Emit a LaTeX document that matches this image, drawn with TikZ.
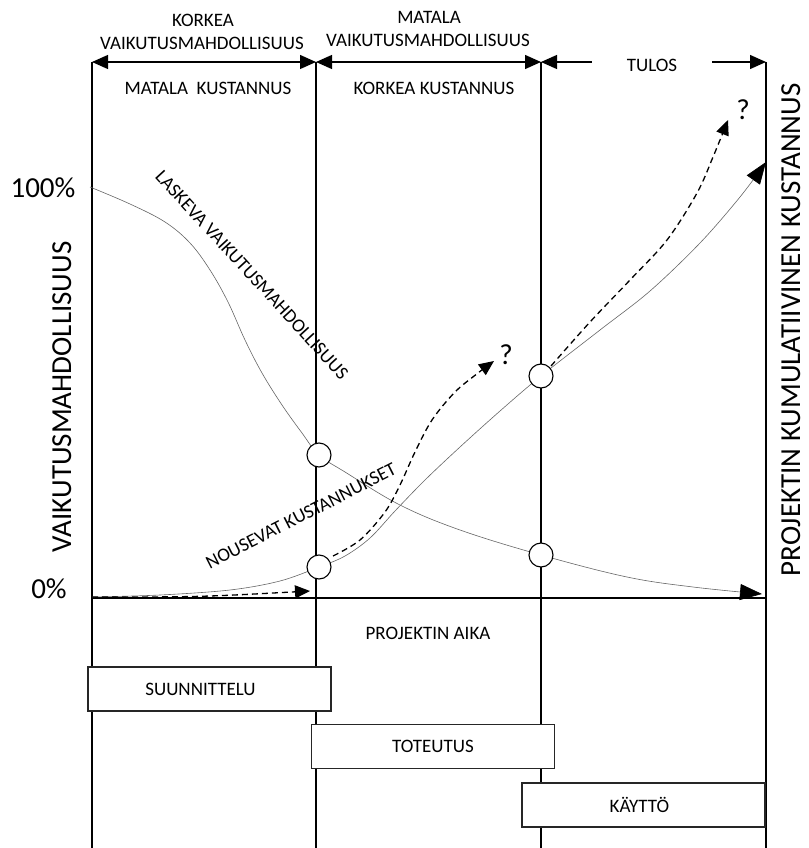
\documentclass[tikz,border=0pt]{standalone}
\usepackage{fontspec}
\setmainfont{Carlito}
\usetikzlibrary{arrows.meta}

\tikzset{
  small/.style={font=\fontsize{19}{22}\selectfont},
  big/.style={font=\fontsize{29}{33}\selectfont},
  axisline/.style={line width=1.3pt, black},
  spanarrow/.style={line width=1.3pt, {Triangle[length=16pt,width=14pt]}-{Triangle[length=16pt,width=14pt]}},
  halfarrow/.style={line width=1.3pt, -{Triangle[length=16pt,width=14pt]}},
  trend/.style={line width=0.6pt, black!60, -{Triangle[length=22pt,width=16pt,color=black]}},
  guess/.style={line width=1.3pt, black, dash pattern=on 6pt off 4pt, -{Triangle[length=15pt,width=13pt]}},
  marker/.style={circle, draw=black, fill=white, line width=1.1pt, minimum size=24pt, inner sep=0pt},
  phase/.style={draw=black!85, fill=white, line width=1.2pt, minimum width=243pt, minimum height=44pt,
                inner sep=0pt, text depth=0pt, small},
}

\begin{document}
\begin{tikzpicture}[x=1pt, y=-1pt]
\useasboundingbox (0,0) rectangle (808,848);

% column boundaries
\coordinate (t0) at (92,62);   \coordinate (b0) at (92,848);
\coordinate (t1) at (316,62);  \coordinate (b1) at (316,848);
\coordinate (t2) at (541,62);  \coordinate (b2) at (541,848);
\coordinate (t3) at (766,62);  \coordinate (b3) at (766,848);
\coordinate (o0) at (92,598);  \coordinate (o3) at (766,598);

\draw[axisline] (t0) -- (b0);
\draw[axisline] (t1) -- (b1);
\draw[axisline] (t2) -- (b2);
\draw[axisline] (t3) -- (b3);
\draw[axisline] (o0) -- (o3);

% span arrows along the top
\draw[spanarrow] (t0) -- (t1);
\draw[spanarrow] (t1) -- (t2);
\node[small, inner xsep=35pt, inner ysep=0pt] (tulos) at (652,65) {TULOS};
\draw[halfarrow] (tulos.west |- t2) -- (t2);
\draw[halfarrow] (tulos.east |- t3) -- (t3);

% headings
\node[small] (h1a) at (203,20) {KORKEA};
\node[small] (h1b) at (202,43) {VAIKUTUSMAHDOLLISUUS};
\node[small] (h2a) at (429,17) {MATALA};
\node[small] (h2b) at (428,40) {VAIKUTUSMAHDOLLISUUS};
\node[small] (k1) at (208,88) {MATALA\ \ KUSTANNUS};
\node[small] (k2) at (434,88) {KORKEA KUSTANNUS};

% axis labels
\node[big] (p100) at (43,188) {100\%};
\node[big] (p0) at (49,589) {0\%};
\node[big, rotate=90, anchor=base, inner sep=0pt] (ylab) at (71,397) {VAIKUTUSMAHDOLLISUUS};
\node[big, rotate=90, anchor=base, inner sep=0pt] (y2lab) at (800,330) {PROJEKTIN KUMULATIIVINEN KUSTANNUS};
\node[small] (xlab) at (428,633) {PROJEKTIN AIKA};

% intersection markers
\coordinate (c1) at (319,455);
\coordinate (c2) at (319,567);
\coordinate (c3) at (541,555);
\coordinate (c4) at (541,376);

% falling influence
\draw[trend] plot[smooth, tension=0.6] coordinates {
  (90,187) (130,204) (165,222) (190,243) (210,270) (228,302) (245,340)
  (262,373) (282,405) (302,433) (c1) (345,472) (400,505) (460,530) (c3)
  (627,577) (693,587) (762,594)};

% rising cumulative cost
\draw[trend] plot[smooth, tension=0.55] coordinates {
  (92,597) (160,595) (230,590) (280,581) (c2) (345,556) (370,538)
  (395,511) (425,480) (460,447) (500,411) (c4) (600,330) (650,291)
  (700,243) (740,197) (766,162)};

% uncertain cost paths
\draw[guess] (92,597) .. controls (200,597) .. (310,591);
\draw[guess] plot[smooth, tension=0.55] coordinates {
  (333,556) (360,540) (385,512) (400,485) (415,452) (432,420)
  (455,392) (478,373) (494,361)};
\draw[guess] plot[smooth, tension=0.55] coordinates {
  (551,366) (590,322) (630,280) (667,240) (697,193) (713,157) (728,120)};

\node[big] (q1) at (506,355) {?};
\node[big] (q2) at (743,110) {?};

\node[marker] (m1) at (c1) {};
\node[marker] (m2) at (c2) {};
\node[marker] (m3) at (c3) {};
\node[marker] (m4) at (c4) {};

% curve captions
\node[small, rotate=-47.5] (fall) at (252,275) {LASKEVA VAIKUTUSMAHDOLLISUUS};
\node[small, rotate=27] (rise) at (301,516) {NOUSEVAT KUSTANNUKSET};

% phases
\node[phase] (s1) at (209.5,689) {SUUNNITTELU\hspace*{18pt}};
\node[phase] (s2) at (433,746.5) {TOTEUTUS};
\node[phase] (s3) at (643.5,805) {KÄYTTÖ\hspace*{8pt}};
\end{tikzpicture}
\end{document}
